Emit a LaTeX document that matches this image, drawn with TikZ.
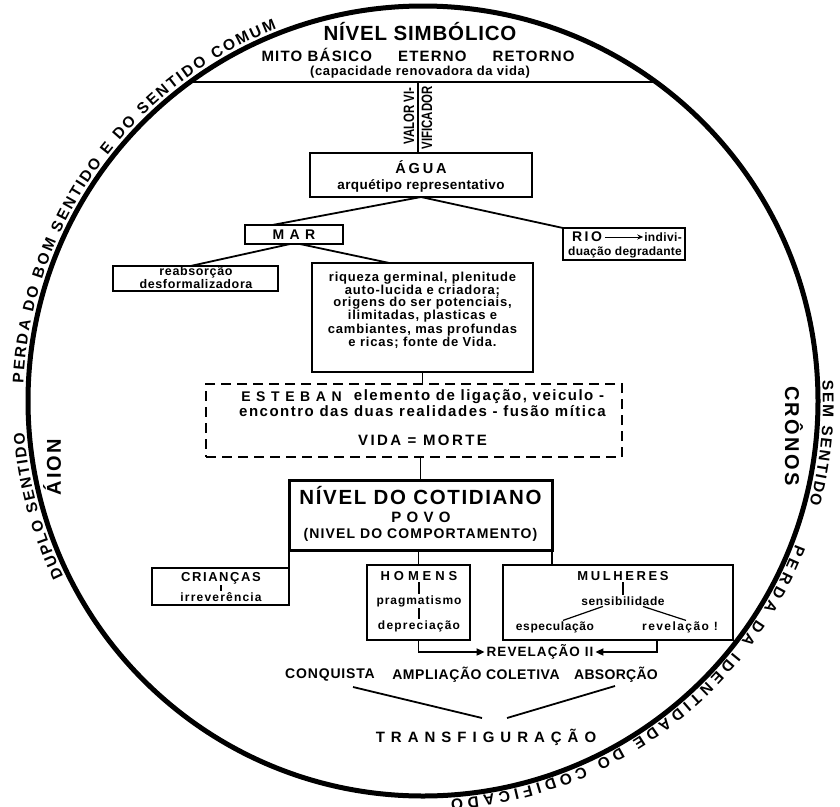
\documentclass[tikz,border=0pt]{standalone}
\usepackage{fontspec}
\setmainfont{Liberation Sans}
\usetikzlibrary{decorations.text,arrows.meta,calc}
\newcommand{\Tx}[3]{{\fontsize{#1}{#1}\selectfont\bfseries\addfontfeatures{LetterSpace=#2}#3}}
\begin{document}
\begin{tikzpicture}[x=1pt,y=-1pt,
  every node/.style={inner sep=0pt, outer sep=0pt},
  box/.style={draw, line width=2.2pt},
  conn/.style={line width=1.8pt},
  tick/.style={line width=1.2pt, shorten <=1.5pt, shorten >=1.5pt},
  arc text/.style={decorate, decoration={text along path, text align={fit to path}, text={#1}}}]
\useasboundingbox (0,0) rectangle (840,806);
\fill[white] (0,0) rectangle (840,806);
\clip (0,0) rectangle (840,806);

% outer circle and top chord
\draw[line width=5pt] (423,401) circle[radius=395];
\coordinate (hl) at (190,82);
\coordinate (hr) at (656,82);
\draw[conn] (hl) -- (hr);

% texts around the circle
\path[arc text={|\fontsize{15.5}{15.5}\selectfont\bfseries|PERDA DO BOM SENTIDO E DO SENTIDO COMUM}]
  (423,401) ++(-177.5:400) arc[start angle=-177.5, end angle=-111.5, radius=400];
\path[arc text={|\fontsize{15.5}{15.5}\selectfont\bfseries|DUPLO SENTIDO}]
  (423,401) ++(-206:400) arc[start angle=-206, end angle=-184.5, radius=400];
\path[arc text={|\fontsize{15.5}{15.5}\selectfont\bfseries|SEM SENTIDO}]
  (423,401) ++(-3:400) arc[start angle=-3, end angle=15, radius=400];
\path[arc text={|\fontsize{15.5}{15.5}\selectfont\bfseries|PERDA DA IDENTIDADE DO CODIFICADO}]
  (423,401) ++(21:399) arc[start angle=21, end angle=86, radius=399];

\node[rotate=90] (aion) at (52,467) {\Tx{20}{10}{ÁION}};
\node[rotate=-90] (cron) at (794,436) {\Tx{20}{12}{CRÔNOS}};

% symbolic level
\node (simb) at (420,32) {\Tx{20.5}{4}{NÍVEL SIMBÓLICO}};
\node (mito) at (418,55) {\Tx{15}{8}{MITO BÁSICO\hspace{26pt}ETERNO\hspace{26pt}RETORNO}};
\node (capa) at (420,72) {\Tx{13}{5}{(capacidade renovadora da vida)}};

\coordinate (vtop) at (418,82);
\node[rotate=90] (valor) at (409,116) {\scalebox{0.76}[1]{\Tx{15}{0}{VALOR VI-}}};
\node[rotate=90] (vific) at (427,118) {\scalebox{0.76}[1]{\Tx{15}{0}{VIFICADOR}}};

% AGUA
\node[box, minimum width=222pt, minimum height=44pt] (agua) at (421,175) {};
\node (aguat) at (421,167) {\Tx{14.5}{20}{ÁGUA}};
\node (aguas) at (421,186) {\Tx{13.5}{3}{arquétipo representativo}};
\draw[conn] (vtop) -- (vtop |- agua.north);

% MAR
\node[box, minimum width=98pt, minimum height=19pt] (mar) at (294,234.5) {\Tx{14}{38}{MAR}};
% RIO
\node[box, minimum width=122pt, minimum height=32pt] (rio) at (624,244) {};
\node (riot) at (587,237) {\Tx{14}{18}{RIO}};
\node (rioi) at (663,237) {\Tx{12}{3}{indivi-}};
\node (riod) at (625,252) {\Tx{12}{2}{duação degradante}};
\draw[line width=1pt, -{Stealth[length=6pt,width=5pt]}, shorten <=3pt, shorten >=1pt] (riot.east) -- (rioi.west);

\draw[conn] (agua.south) -- ($(mar.north west)!0.28!(mar.north east)$);
\draw[conn] (agua.south) -- (rio.north west);

% reabsorcao
\node[box, minimum width=165pt, minimum height=25pt] (reab) at (195.5,278.5) {};
\node (reab1) at (196,272.5) {\Tx{12.5}{5}{reabsorção}};
\node (reab2) at (196,284.5) {\Tx{12.5}{5}{desformalizadora}};

% big box
\node[box, minimum width=221pt, minimum height=109pt] (rich) at (422.5,317.5) {};
\node[align=center, font=\fontsize{13}{11.2}\selectfont\bfseries\addfontfeatures{LetterSpace=6}] (richt) at (422.5,310)
  {riqueza germinal, plenitude\\auto-lucida e criadora;\\origens do ser potenciais,\\ilimitadas, plasticas e\\cambiantes, mas profundas\\e ricas; fonte de Vida.};

\draw[conn] ($(mar.south west)!0.46!(mar.south east)$) -- ($(reab.north west)!0.47!(reab.north east)$);
\draw[conn] ($(mar.south west)!0.56!(mar.south east)$) -- ($(rich.north west)!0.35!(rich.north east)$);

% ESTEBAN
\node[draw, line width=2.2pt, dash pattern=on 10pt off 6pt, minimum width=416pt, minimum height=73pt] (est) at (414,420.5) {};
\node (est1) at (291.5,397) {\Tx{14}{40}{ESTEBAN}};
\node (est2) at (479,397) {\Tx{15}{10}{elemento de ligação, veiculo -}};
\node (est3) at (422.5,411) {\Tx{15}{10}{encontro das duas realidades - fusão mítica}};
\node (est4) at (422.5,440) {\Tx{15}{16}{VIDA = MORTE}};
\draw[conn] (rich.south) -- (rich.south |- est.north);

% cotidiano
\node[box, line width=3pt, minimum width=263pt, minimum height=70pt] (cot) at (420.5,515) {};
\node (cot1) at (420.5,496) {\Tx{20.5}{8}{NÍVEL DO COTIDIANO}};
\node (cot2) at (421,517) {\Tx{15}{35}{POVO}};
\node (cot3) at (420.5,535) {\Tx{14}{8}{(NIVEL DO COMPORTAMENTO)}};
\draw[conn] (est.south -| cot.north) -- (cot.north);

% criancas
\node[box, minimum width=137pt, minimum height=37pt] (cri) at (220.5,586.5) {};
\node (cri1) at (221,578) {\Tx{13}{12}{CRIANÇAS}};
\node (cri2) at (221,597) {\Tx{12}{10}{irreverência}};
\draw[tick] (cri1.south) -- (cri2.north);

% homens
\node[box, minimum width=103pt, minimum height=75pt] (hom) at (418.5,602.5) {};
\node (hom1) at (419,576) {\Tx{13}{30}{HOMENS}};
\node (hom2) at (419,601) {\Tx{12}{8}{pragmatismo}};
\node (hom3) at (419,626) {\Tx{12}{10}{depreciação}};
\draw[tick] (hom1.south) -- (hom2.north);
\draw[tick] (hom2.south) -- (hom3.north);

% mulheres
\node[box, minimum width=230pt, minimum height=75pt] (mul) at (618,602.5) {};
\node (mul1) at (623,576) {\Tx{13}{20}{MULHERES}};
\node (mul2) at (623,601) {\Tx{12}{5}{sensibilidade}};
\node (mul3) at (555,627) {\Tx{12}{5}{especulação}};
\node (mul4) at (680,627) {\Tx{12}{12}{revelação !}};
\draw[tick] (mul1.south) -- (mul2.north);
\draw[line width=1.2pt] ($(mul2.south)+(-20,1)$) -- ($(mul3.north)+(8,-1)$);
\draw[line width=1.2pt] ($(mul2.south)+(20,1)$) -- ($(mul4.north)+(6,-1)$);

% from cotidiano to the three groups
\draw[conn] (cot.south west) -- (cot.south west |- cri.north);
\draw[conn] (cot.south -| hom.north) -- (hom.north);
\draw[conn] (cot.south east) -- (cot.south east |- mul.north);

% revelacao II
\node (rev) at (540,652) {\Tx{13.5}{8}{REVELAÇÃO II}};
\draw[conn, -{Triangle[length=8pt,width=7pt]}, shorten >=2pt] (hom.south) |- (rev.west);
\draw[conn, -{Triangle[length=8pt,width=7pt]}, shorten >=2pt] ($(mul.south west)!0.67!(mul.south east)$) |- (rev.east);

% bottom row
\node (conq) at (330,675) {\Tx{14}{6}{CONQUISTA}};
\node (ampl) at (476,675) {\Tx{14}{4}{AMPLIAÇÃO COLETIVA}};
\node (abso) at (616,675) {\Tx{14}{2}{ABSORÇÃO}};
\node (trans) at (486,737) {\Tx{15}{40}{TRANSFIGURAÇÃO}};
\coordinate (vl1) at (353,687);
\coordinate (vl2) at (482,718);
\coordinate (vr1) at (507,718);
\coordinate (vr2) at (615,686);
\draw[conn] (vl1) -- (vl2);
\draw[conn] (vr1) -- (vr2);
\end{tikzpicture}
\end{document}
